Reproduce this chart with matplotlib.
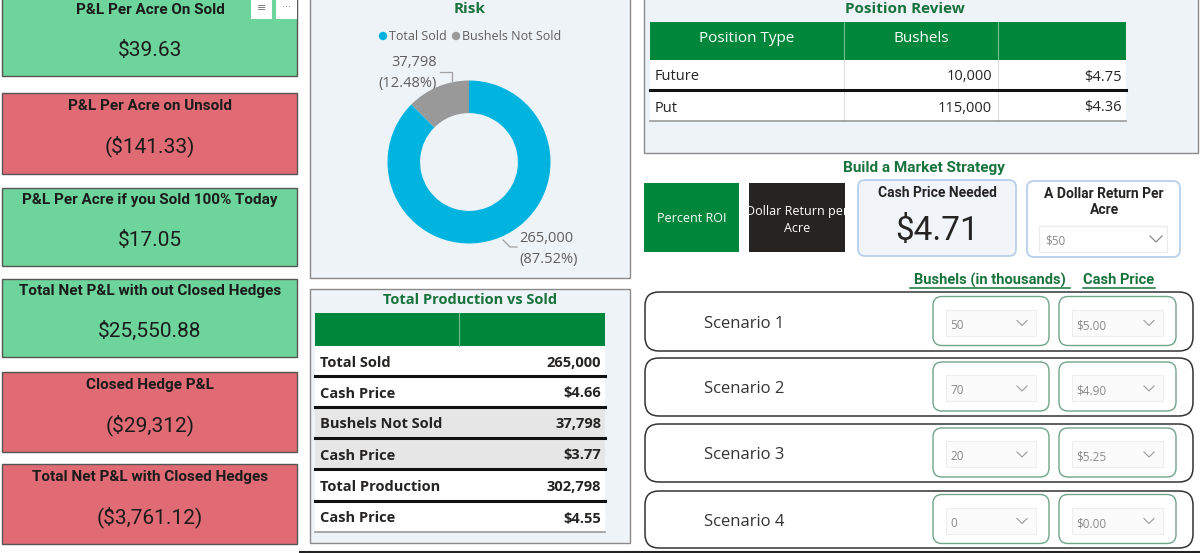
import matplotlib
matplotlib.use('Agg')
from matplotlib import pyplot as plt
from matplotlib.patches import Rectangle, FancyBboxPatch, Circle

# data
kpi_titles = ['P&L Per Acre On Sold', 'P&L Per Acre on Unsold', 'P&L Per Acre if you Sold 100% Today',
              'Total Net P&L with out Closed Hedges', 'Closed Hedge P&L', 'Total Net P&L with Closed Hedges']
kpi_values = ['$39.63', '($141.33)', '$17.05', '$25,550.88', '($29,312)', '($3,761.12)']
kpi_good = [True, False, True, True, False, False]

risk_labels = ['Total Sold', 'Bushels Not Sold']
risk_values = [265000, 37798]

pos_types = ['Future', 'Put']
pos_bushels = [10000, 115000]
pos_prices = [4.75, 4.36]

prod_labels = ['Total Sold', 'Cash Price', 'Bushels Not Sold', 'Cash Price', 'Total Production', 'Cash Price']
prod_values = ['265,000', '$4.66', '37,798', '$3.77', '302,798', '$4.55']

scenario_names = ['Scenario 1', 'Scenario 2', 'Scenario 3', 'Scenario 4']
scenario_bushels = [50, 70, 20, 0]
scenario_prices = [5.00, 4.90, 5.25, 0.00]

cash_price_needed = 4.71
dollar_return = 50

GREEN = '#00873c'
TITLE_GREEN = '#17733b'
CARD_FONT = 'Roboto'
UI_FONT = ['Open Sans', 'DejaVu Sans']

fig = plt.figure(figsize=(12, 5.53), dpi=100)
ax = fig.add_axes([0, 0, 1, 1])
ax.set_xlim(0, 1200)
ax.set_ylim(553, 0)
ax.axis('off')


def rect(x0, y0, x1, y1, fc, ec='none', lw=1, z=1):
    ax.add_patch(Rectangle((x0, y0), x1 - x0, y1 - y0, fc=fc, ec=ec, lw=lw, zorder=z))


def rbox(x0, y0, x1, y1, r, fc, ec, lw=1, z=1):
    ax.add_patch(FancyBboxPatch((x0, y0), x1 - x0, y1 - y0,
                                boxstyle=f'round,pad=0,rounding_size={r}',
                                fc=fc, ec=ec, lw=lw, zorder=z))


def txt(x, y, s, size=10, color='#252423', ha='center', weight='normal', family=UI_FONT, z=5):
    ax.text(x, y, s, fontsize=size, color=color, ha=ha, va='center',
            fontweight=weight, family=family, zorder=z)


# ---- KPI cards on the left
card_tops = [-5, 93, 188, 279, 372, 464]
card_bots = [76, 174, 266, 357, 452, 544]
for t, b, title, val, good in zip(card_tops, card_bots, kpi_titles, kpi_values, kpi_good):
    rect(2, t, 297, b, '#6dd49b' if good else '#e06b74', ec='#555555', lw=1)
    mid = (t + b) / 2 if t > 0 else 37
    txt(150, mid - 27 if t > 0 else 10, title, size=11, weight='bold', family=CARD_FONT, color='#1b1b1b')
    txt(150, mid + 13, val, size=15, family=CARD_FONT, color='#1b1b1b')
# the small header icons of the first card
rect(251, 0, 272, 19, 'white')
rect(276, 0, 297, 19, 'white')
txt(261.5, 8, '\u2261', size=8, color='#777777', family=['DejaVu Sans'])
txt(286.5, 7, '\u00b7\u00b7\u00b7', size=7, color='#777777', family=['DejaVu Sans'])

# ---- Risk donut panel
rect(310, -2, 630, 278, '#eef3f8', ec='#8a8a8a', lw=1)
txt(470, 9, 'Risk', size=11, weight='bold', color=TITLE_GREEN)
pie_colors = ['#01b4e0', '#999999']
legend_x = [383, 456]
for lx, lab, col in zip(legend_x, risk_labels, pie_colors):
    ax.add_patch(Circle((lx, 36), 4.2, fc=col, ec='none', zorder=5))
    txt(lx + 6, 37, lab, size=9, color='#605e5c', ha='left')

cx, cy, rad = 469, 162, 81.5
pax = fig.add_axes([(cx - rad) / 1200, (553 - cy - rad) / 553, 2 * rad / 1200, 2 * rad / 553])
pax.pie(risk_values, colors=pie_colors, startangle=90, counterclock=False,
        wedgeprops=dict(width=0.40, edgecolor='none'))
pax.set_xlim(-1, 1)
pax.set_ylim(-1, 1)
pax.set_aspect('equal')
pax.axis('off')

total = sum(risk_values)
txt(437, 63, f'{risk_values[1]:,}', size=10.5, color='#605e5c', ha='right')
txt(437, 83, f'({risk_values[1] / total:.2%})', size=10.5, color='#605e5c', ha='right')
ax.plot([440, 452, 452], [72, 72, 81], color='#a0a0a0', lw=0.9, zorder=6)
txt(519, 238, f'{risk_values[0]:,}', size=10.5, color='#605e5c', ha='left')
txt(519, 259, f'({risk_values[0] / total:.2%})', size=10.5, color='#605e5c', ha='left')
ax.plot([503, 510, 517], [240, 247, 247], color='#a0a0a0', lw=0.9, zorder=6)

# ---- Position Review
rect(644, -2, 1198, 153, '#eef3f8', ec='#8a8a8a', lw=1)
txt(905, 9, 'Position Review', size=11, weight='bold', color=TITLE_GREEN)
rect(650, 22, 1126, 60, GREEN)
for xd in [844, 998]:
    ax.plot([xd, xd], [22, 60], color='#6fbf8f', lw=0.8, zorder=3)
    ax.plot([xd, xd], [60, 121], color='#dddddd', lw=0.8, zorder=3)
txt(747, 39, 'Position Type', size=11, color='white')
txt(921, 39, 'Bushels', size=11, color='white')
rect(650, 60, 1126, 121, 'white', z=2)
row_y = [77, 108]
for ry, ptype, pb, pp in zip(row_y, pos_types, pos_bushels, pos_prices):
    txt(655, ry, ptype, size=10.5, ha='left')
    txt(992, ry, f'{pb:,}', size=10.5, ha='right')
    txt(1122, ry, f'${pp:.2f}', size=10.5, ha='right')
ax.plot([650, 1126], [90, 90], color='#111111', lw=2.2, zorder=4)
ax.plot([650, 1126], [121, 121], color='#999999', lw=1.2, zorder=4)

# ---- Build a Market Strategy
txt(924, 168, 'Build a Market Strategy', size=11, weight='bold', color=TITLE_GREEN, family=CARD_FONT)
rect(644, 183, 739, 252, GREEN)
txt(691.5, 219, 'Percent ROI', size=9, color='white')
rect(749, 183, 845, 252, '#252423')
txt(797, 212, 'Dollar Return per', size=9, color='white')
txt(797, 229, 'Acre', size=9, color='white')

rbox(858, 180, 1016, 256, 7, '#f1f5fa', '#b8d0ea', lw=1.3)
txt(937, 193, 'Cash Price Needed', size=10, weight='bold', family=CARD_FONT)
txt(937, 231, f'${cash_price_needed:.2f}', size=24, family=CARD_FONT, color='#252423')

rbox(1027, 181, 1180, 257, 7, 'white', '#b8d0ea', lw=1.3)
txt(1104, 194, 'A Dollar Return Per', size=10, weight='bold', family=CARD_FONT)
txt(1104, 210, 'Acre', size=10, weight='bold', family=CARD_FONT)
rect(1039, 226, 1167, 252, 'white', ec='#ececec', lw=1)
txt(1045, 241, f'${dollar_return}', size=8.5, color='#8a8a8a', ha='left')
ax.plot([1150, 1156, 1162], [236, 242, 236], color='#8a8a8a', lw=0.9, zorder=6)

txt(990, 280, 'Bushels (in thousands)', size=10.5, weight='bold', color=TITLE_GREEN, family=CARD_FONT)
ax.plot([910, 1070], [288, 288], color=TITLE_GREEN, lw=1.1, zorder=5)
txt(1119, 280, 'Cash Price', size=10.5, weight='bold', color=TITLE_GREEN, family=CARD_FONT)
ax.plot([1083, 1155], [288, 288], color=TITLE_GREEN, lw=1.1, zorder=5)

# ---- Scenario rows
sc_tops = [292, 358, 424, 491]
sc_bots = [351, 416, 482, 548]
for t, b, name, sb, sp in zip(sc_tops, sc_bots, scenario_names, scenario_bushels, scenario_prices):
    rbox(645, t, 1193, b, 14, 'white', '#333333', lw=1.1)
    m = (t + b) / 2
    txt(704, m + 2, name, size=12, color='#333333', ha='left')
    for x0, x1, val in [(933, 1049, f'{sb}'), (1059, 1176, f'${sp:.2f}')]:
        rbox(x0, m - 25, x1, m + 24, 9, 'white', '#6fa58a', lw=1)
        rect(x0 + 13, m - 12, x1 - 13, m + 14, '#fbfbfb', ec='#eeeeee', lw=0.8, z=2)
        txt(x0 + 17, m + 4, val, size=8.5, color='#8a8a8a', ha='left')
        ax.plot([x1 - 32, x1 - 27, x1 - 22], [m - 1, m + 4, m - 1], color='#9a9a9a', lw=0.8, zorder=6)

# ---- Total Production vs Sold
rect(310, 289, 630, 543, '#eef3f8', ec='#8a8a8a', lw=1)
txt(470, 300, 'Total Production vs Sold', size=10.5, weight='bold', color=TITLE_GREEN)
rect(315, 313, 605, 346, GREEN)
ax.plot([459, 459], [313, 346], color='#6fbf8f', lw=0.8, zorder=3)
row_tops = [346, 376, 407, 438, 469, 501]
row_bots = [376, 407, 438, 469, 501, 532]
row_fill = ['white', 'white', '#e6e6e6', '#e6e6e6', 'white', 'white']
for t, b, lab, val, fc in zip(row_tops, row_bots, prod_labels, prod_values, row_fill):
    rect(315, t, 605, b, fc)
    m = (t + b) / 2
    txt(320, m + 2, lab, size=10.5, weight='bold', ha='left')
    txt(601, m + 2, val, size=10.5, weight='bold', ha='right')
for yl in row_bots[:-1]:
    ax.plot([315, 605], [yl, yl], color='#111111', lw=2.2, zorder=4)
ax.plot([315, 605], [532, 532], color='#999999', lw=1.2, zorder=4)

ax.plot([300, 1200], [551.5, 551.5], color='#222222', lw=1.5, zorder=6)

plt.savefig('out.png', dpi=100)
